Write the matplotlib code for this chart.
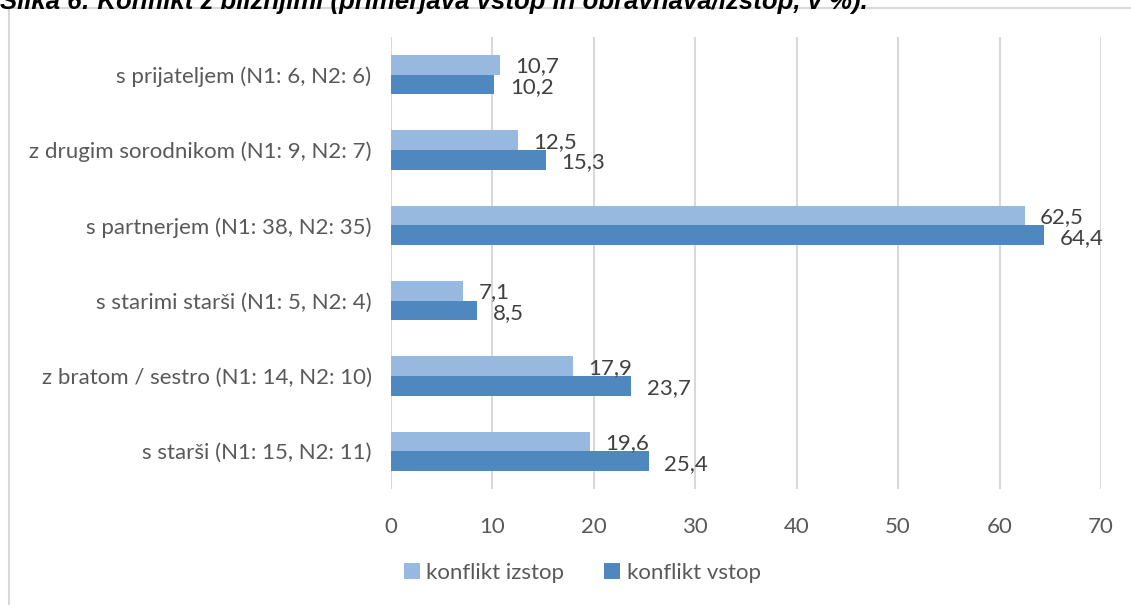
import numpy as np
import matplotlib.pyplot as plt
from matplotlib.patches import Rectangle

plt.rcParams['font.family'] = ['Lato', 'DejaVu Sans']

categories = ['s prijateljem (N1: 6, N2: 6)',
              'z drugim sorodnikom (N1: 9, N2: 7)',
              's partnerjem (N1: 38, N2: 35)',
              's starimi starši (N1: 5, N2: 4)',
              'z bratom / sestro (N1: 14, N2: 10)',
              's starši (N1: 15, N2: 11)']
izstop = [10.7, 12.5, 62.5, 7.1, 17.9, 19.6]
vstop = [10.2, 15.3, 64.4, 8.5, 23.7, 25.4]
xticks = [0, 10, 20, 30, 40, 50, 60, 70]

c_light = '#97B9E0'
c_dark = '#4F88BE'
txt = '#404040'
grid_c = '#D9D9D9'
fs = 16

fig = plt.figure(figsize=(11.31, 6.05), dpi=100)
ax = fig.add_axes([391 / 1131, 1 - 489 / 605, 710 / 1131, 452 / 605])

y = np.arange(len(categories))
h = 0.26
ax.barh(y - h / 2, izstop, height=h, color=c_light, zorder=3, label='konflikt izstop')
ax.barh(y + h / 2, vstop, height=h, color=c_dark, zorder=3, label='konflikt vstop')

for i in range(len(categories)):
    ax.annotate(f'{izstop[i]:.1f}'.replace('.', ','), (izstop[i], y[i] - h / 2),
                xytext=(11, -1), textcoords='offset points', ha='left', va='center',
                fontsize=fs, color=txt, zorder=4)
    ax.annotate(f'{vstop[i]:.1f}'.replace('.', ','), (vstop[i], y[i] + h / 2),
                xytext=(11, -2), textcoords='offset points', ha='left', va='center',
                fontsize=fs, color=txt, zorder=4)

ax.set_xlim(0, 70)
ax.set_ylim(len(categories) - 0.5, -0.5)
ax.set_xticks(xticks)
ax.set_yticks(y)
ax.set_yticklabels(categories)
ax.tick_params(length=0, labelsize=fs, labelcolor='#595959')
ax.tick_params(axis='x', pad=20)
ax.tick_params(axis='y', pad=14)
ax.grid(axis='x', color=grid_c, linewidth=1.5, zorder=0)
for s in ax.spines.values():
    s.set_visible(False)

ax.legend(loc='center', bbox_to_anchor=(0.515, 1 - 573 / 605), bbox_transform=fig.transFigure,
          ncol=2, frameon=False, fontsize=fs, labelcolor='#595959',
          handlelength=0.7, handleheight=0.7, handletextpad=0.3, columnspacing=1.8)

# chart frame, cut off at right and bottom
fig.patches.append(Rectangle((9 / 1131, -0.2), 1.2, 1.2 - 8 / 605,
                             transform=fig.transFigure, fill=False,
                             edgecolor=grid_c, linewidth=1.5))

fig.text(0.0, 1 - 9 / 605, 'Slika 6: Konflikt z bližnjimi (primerjava vstop in obravnava/izstop, v %).',
         ha='left', va='baseline', fontsize=18.5, style='italic', weight='bold', color='black',
         family=['Liberation Sans', 'DejaVu Sans'])

plt.savefig('out.png', dpi=100)
